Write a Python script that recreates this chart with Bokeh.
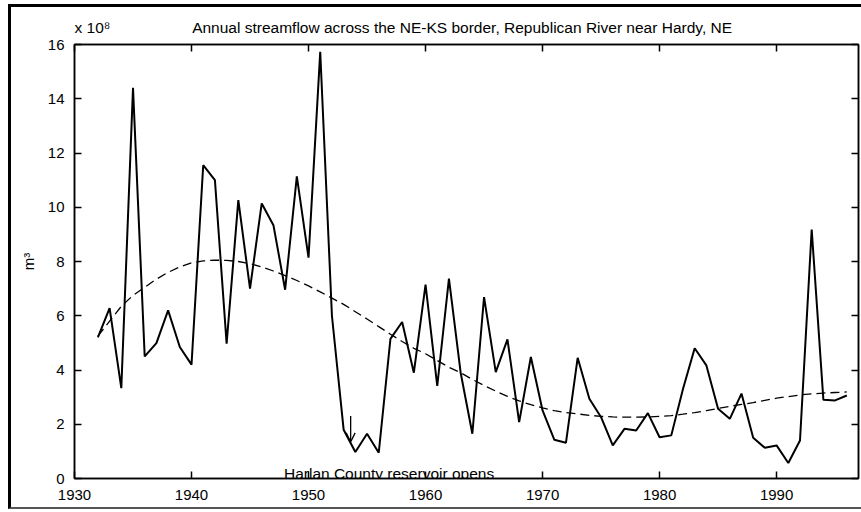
from bokeh.plotting import figure
from bokeh.models import (Range1d, LinearAxis, FixedTicker, Label, Arrow, OpenHead,
                          ColumnDataSource, Title, InlineStyleSheet)
from bokeh.embed import file_html
from bokeh.resources import INLINE

# ---- data ----
years = list(range(1932, 1997))
flow = [5.2, 6.28, 3.33, 14.4, 4.5, 4.99, 6.2, 4.85, 4.2, 11.55,
        11.0, 4.97, 10.26, 7.0, 10.14, 9.34, 6.96, 11.14, 8.14, 15.73,
        6.0, 1.8, 0.98, 1.65, 0.95, 5.15, 5.77, 3.9, 7.15, 3.41,
        7.37, 3.9, 1.65, 6.69, 3.92, 5.13, 2.08, 4.48, 2.51, 1.43,
        1.32, 4.45, 2.94, 2.26, 1.22, 1.83, 1.77, 2.41, 1.52, 1.59,
        3.3, 4.8, 4.17, 2.57, 2.2, 3.13, 1.5, 1.13, 1.22, 0.57,
        1.4, 9.18, 2.9, 2.88, 3.06]
trend = [5.25, 5.8, 6.35, 6.75, 7.05, 7.35, 7.6, 7.8, 7.95, 8.02,
         8.05, 8.04, 8.0, 7.92, 7.8, 7.65, 7.48, 7.3, 7.1, 6.88,
         6.65, 6.42, 6.15, 5.88, 5.6, 5.32, 5.05, 4.8, 4.6, 4.35,
         4.1, 3.9, 3.65, 3.43, 3.22, 3.03, 2.86, 2.72, 2.6, 2.5,
         2.43, 2.38, 2.33, 2.29, 2.27, 2.26, 2.26, 2.27, 2.29, 2.32,
         2.37, 2.43, 2.5, 2.58, 2.66, 2.73, 2.8, 2.88, 2.96, 3.02,
         3.08, 3.12, 3.15, 3.17, 3.19]
x_ticks = [1930, 1940, 1950, 1960, 1970, 1980, 1990]
y_ticks = [0, 2, 4, 6, 8, 10, 12, 14, 16]
scale_text = "x 10\u2078"
title_text = "Annual streamflow across the NE-KS border, Republican River near Hardy, NE"
y_unit = "m\u00b3"
note_text = "Harlan County reservoir opens"
note_year, note_y = 1947.9, 0.17
arrow_year, arrow_from, arrow_to = 1953.6, 2.3, 1.35

FONT = "Liberation Sans"

# outer scanned-page frame drawn as an overlay that does not affect layout
frame_css = InlineStyleSheet(css="""
:host { position: relative; }
:host::after {
  content: ""; position: absolute; left: 8px; top: 4px; right: -10px; bottom: 3px;
  border-left: 3px solid black; border-top: 3px solid black; border-bottom: 2px solid #555;
  pointer-events: none;
}
""")

p = figure(width=861, height=512, output_backend="svg", toolbar_location=None,
           x_range=Range1d(1930, 1997), y_range=Range1d(0, 16),
           min_border_left=74, min_border_right=3, min_border_top=44, min_border_bottom=34,
           stylesheets=[frame_css])
p.background_fill_color = "white"
p.border_fill_color = "white"
p.grid.visible = False
p.outline_line_color = "black"
p.outline_line_width = 1.5

# scale factor and title share one line, as in the reference
p.title.text = scale_text + "\u00a0" * 19 + title_text
p.title.align = "left"
p.title.offset = 0
p.title.text_font = FONT
p.title.text_font_size = "15.5px"
p.title.text_font_style = "normal"
p.title.text_color = "black"
p.title.standoff = 17

def style_axis(ax, show_labels):
    ax.axis_line_color = "black"
    ax.axis_line_width = 1.5
    ax.major_tick_line_color = "black"
    ax.major_tick_line_width = 1.5
    ax.major_tick_in = 7
    ax.major_tick_out = 0
    ax.minor_tick_line_color = None
    ax.major_label_text_font = FONT
    ax.major_label_text_font_size = "15px" if show_labels else "0px"
    ax.major_label_text_color = "black"

p.xaxis.ticker = FixedTicker(ticks=x_ticks)
p.yaxis.ticker = FixedTicker(ticks=y_ticks)
style_axis(p.xaxis[0], True)
style_axis(p.yaxis[0], True)
p.xaxis.major_label_standoff = 11
p.yaxis.major_label_standoff = 10

top = LinearAxis(ticker=FixedTicker(ticks=x_ticks), major_label_standoff=0)
style_axis(top, False)
p.add_layout(top, "above")
right = LinearAxis(ticker=FixedTicker(ticks=y_ticks), major_label_standoff=0)
style_axis(right, False)
p.add_layout(right, "right")

# unit label on the left
p.add_layout(Title(text=y_unit, align="center", text_font=FONT, text_font_size="15px",
                   text_font_style="normal", text_color="black", standoff=16), "left")

src = ColumnDataSource(dict(year=years, flow=flow, trend=trend))
p.line("year", "trend", source=src, line_color="black", line_width=1.3, line_dash="9 5")
p.line("year", "flow", source=src, line_color="black", line_width=2)

p.add_layout(Arrow(end=OpenHead(size=9, line_width=1.3, line_color="black"),
                   x_start=arrow_year, y_start=arrow_from, x_end=arrow_year, y_end=arrow_to,
                   line_color="black", line_width=1.3))

p.add_layout(Label(x=note_year, y=note_y, text=note_text, text_font=FONT,
                   text_font_size="15.5px", text_color="black", text_baseline="alphabetic"))

open("out.html", "w").write(file_html(p, INLINE))
